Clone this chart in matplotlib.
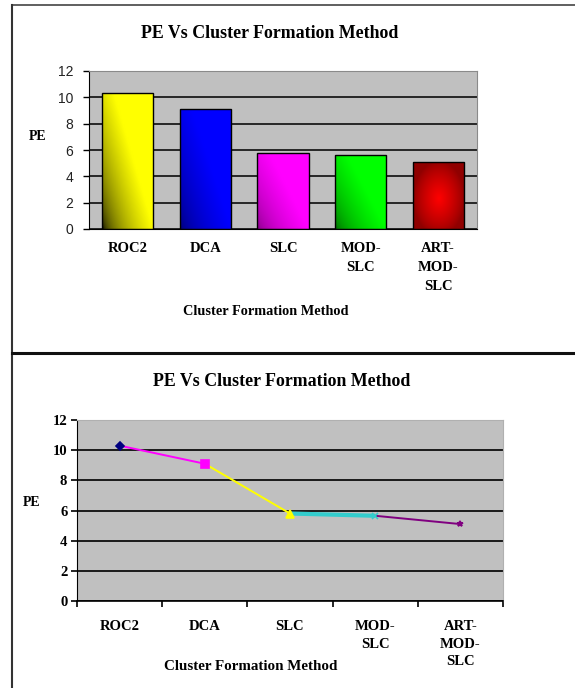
import numpy as np
import matplotlib
matplotlib.use('Agg')
import matplotlib.pyplot as plt
from matplotlib.lines import Line2D
from matplotlib.colors import to_rgb

categories = ['ROC2', 'DCA', 'SLC', 'MOD-\nSLC', 'ART-\nMOD-\nSLC']
pe_values = [10.3, 9.1, 5.8, 5.65, 5.1]
y_ticks = [0, 2, 4, 6, 8, 10, 12]

# bar gradients: (dark, bright, kind)
bar_colors = [('#000000', '#ffff00', 'diag'),
              ('#00006a', '#0000ff', 'diag'),
              ('#7a007a', '#ff00ff', 'diag'),
              ('#005a00', '#00ff00', 'diag'),
              ('#900000', '#ff0000', 'radial')]
# line chart: point colours and markers (Excel vary-by-point)
pt_colors = ['#000080', '#ff00ff', '#ffff00', '#33cccc', '#800080']
pt_markers = ['D', 's', '^', 'x', '*']

serif = 'Liberation Serif'
W, H = 575, 688
fig = plt.figure(figsize=(W / 100, H / 100), dpi=100)


def fx(px):
    return px / W


def fy(py):
    return 1 - py / H


# panel borders
fig.add_artist(Line2D([fx(11.5), fx(575)], [fy(5), fy(5)], color='#444444', lw=1.2))
fig.add_artist(Line2D([fx(11.5), fx(11.5)], [fy(5), fy(688)], color='#333333', lw=1.5))
fig.add_artist(Line2D([fx(11.5), fx(575)], [fy(352.5), fy(352.5)], color='#111111', lw=2.2))

# ---------- top: bar chart ----------
ax1 = fig.add_axes([fx(89), fy(229), fx(477 - 89), (229 - 71) / H])
ax1.set_facecolor('#c0c0c0')
x = np.arange(len(categories))
bars = ax1.bar(x, pe_values, width=0.66, edgecolor='black', linewidth=1.0,
               facecolor='none', zorder=3)
ny, nx = 60, 40
u = np.linspace(0, 1, nx)[None, :]
v = np.linspace(0, 1, ny)[:, None]
for b, (dark, bright, kind) in zip(bars, bar_colors):
    d = np.array(to_rgb(dark))
    br = np.array(to_rgb(bright))
    if kind == 'diag':
        t = np.clip((u * 1.3 + v) / 1.3, 0, 1) ** 0.5
    else:
        r = np.sqrt(((u - 0.5) / 0.5) ** 2 + ((v - 0.45) / 0.55) ** 2)
        t = np.clip(1 - r, 0, 1) ** 0.8
    img = d[None, None, :] + (br - d)[None, None, :] * t[:, :, None]
    x0, y0 = b.get_x(), b.get_y()
    im = ax1.imshow(img, extent=[x0, x0 + b.get_width(), y0, y0 + b.get_height()],
                    origin='lower', aspect='auto', zorder=2, interpolation='bilinear')
    im.set_clip_path(b)
ax1.set_xlim(-0.5, len(categories) - 0.5)
ax1.set_ylim(0, 12)
ax1.set_yticks(y_ticks)
ax1.yaxis.grid(True, color='#262626', lw=1.4)
ax1.set_axisbelow(True)
ax1.set_xticks(x)
ax1.set_xticklabels(categories, fontfamily=serif, fontweight='bold', fontsize=10.5,
                    linespacing=1.65)
ax1.tick_params(axis='x', length=0, pad=9)
ax1.tick_params(axis='y', length=4.5, width=1, pad=7, labelsize=10, labelcolor='#222222')
for lab in ax1.get_yticklabels():
    lab.set_fontfamily('Liberation Sans')
ax1.spines['left'].set_color('black')
ax1.spines['bottom'].set_color('black')
ax1.spines['top'].set_color('#8a8a8a')
ax1.spines['right'].set_color('#8a8a8a')

fig.text(fx(270), fy(34), 'PE Vs Cluster Formation Method', fontfamily=serif,
         fontweight='bold', fontsize=12.9, ha='center', va='center')
fig.text(fx(38), fy(136), 'PE', fontfamily=serif, fontweight='bold', fontsize=10,
         ha='center', va='center')
fig.text(fx(266), fy(312), 'Cluster Formation Method', fontfamily=serif,
         fontweight='bold', fontsize=10.3, ha='center', va='center')

# ---------- bottom: line chart ----------
ax2 = fig.add_axes([fx(77), fy(601), fx(503 - 77), (601 - 420) / H])
ax2.set_facecolor('#c0c0c0')
for i in range(1, len(categories)):
    ax2.plot(x[i - 1:i + 1], pe_values[i - 1:i + 1], color=pt_colors[i],
             lw=3.0 if i == 3 else 1.4, zorder=3, solid_capstyle='butt')
for i in range(len(categories)):
    ax2.plot(x[i], pe_values[i], marker=pt_markers[i], color=pt_colors[i],
             markersize=4 if i in (0, 3, 4) else 6, mew=1.2, zorder=4, ls='none')
ax2.set_xlim(-0.5, len(categories) - 0.5)
ax2.set_ylim(0, 12)
ax2.set_yticks(y_ticks)
ax2.yaxis.grid(True, color='#1a1a1a', lw=1.4)
ax2.set_axisbelow(True)
ax2.set_xticks(x)
ax2.set_xticklabels(categories, fontfamily=serif, fontweight='bold', fontsize=10.5,
                    linespacing=1.45)
ax2.set_xticks(np.arange(-0.5, len(categories)), minor=True)
ax2.tick_params(axis='x', which='major', length=0, pad=14)
ax2.tick_params(axis='x', which='minor', length=4.5, width=1.2)
ax2.tick_params(axis='y', length=4, width=1.2, pad=3)
for lab in ax2.get_yticklabels():
    lab.set_fontfamily(serif)
    lab.set_fontweight('bold')
    lab.set_fontsize(10.5)
ax2.spines['left'].set_color('black')
ax2.spines['bottom'].set_color('black')
ax2.spines['bottom'].set_linewidth(1.2)
ax2.spines['top'].set_color('#b0b0b0')
ax2.spines['right'].set_color('#b0b0b0')

fig.text(fx(282), fy(382), 'PE Vs Cluster Formation Method', fontfamily=serif,
         fontweight='bold', fontsize=12.9, ha='center', va='center')
fig.text(fx(32), fy(502), 'PE', fontfamily=serif, fontweight='bold', fontsize=10,
         ha='center', va='center')
fig.text(fx(251), fy(667), 'Cluster Formation Method', fontfamily=serif,
         fontweight='bold', fontsize=10.8, ha='center', va='center')

fig.savefig('out.png', dpi=100, facecolor='white')
